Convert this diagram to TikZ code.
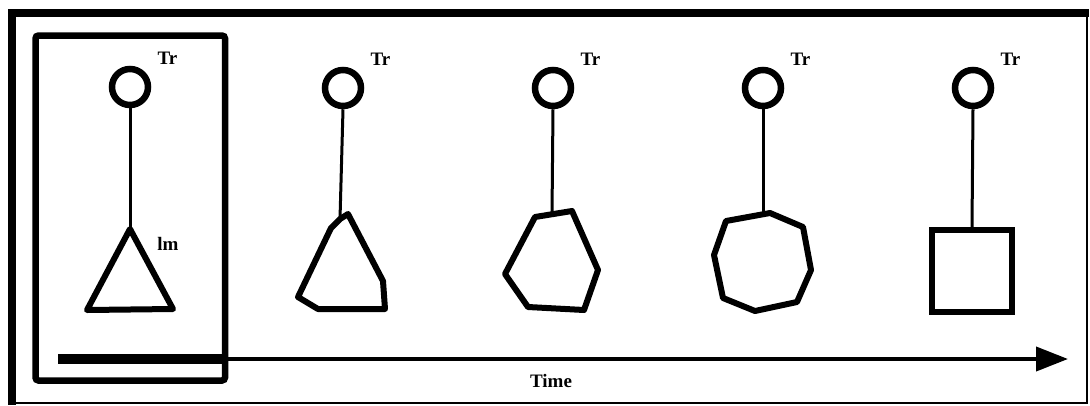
\documentclass[tikz,border=0pt]{standalone}
\usepackage{fontspec}
\setmainfont{Liberation Serif}
\usetikzlibrary{arrows.meta}
\begin{document}
\begin{tikzpicture}[x=1pt,y=-1pt,
  ring/.style={circle,draw,line width=6.5pt,minimum size=36pt,inner sep=0pt},
  lbl/.style={anchor=base,inner sep=0pt,font=\fontsize{19}{20}\selectfont\bfseries},
  stem/.style={line width=3pt},
  polyline/.style={line width=6pt,line join=round}]
\useasboundingbox (0,0) rectangle (1090,405);
% outer frame
\draw[line width=8pt] (8,13) -- (1089,13);
\draw[line width=8pt] (12,9) -- (12,405);
\draw[line width=2.5pt] (1087,9) -- (1087,403) -- (8,403);
% inner box
\draw[line width=6.5pt,rounded corners=3pt] (35.5,35.5) rectangle (225,380.5);
% time axis
\coordinate (barL) at (58,359);
\coordinate (barR) at (222,359);
\coordinate (tip) at (1068,359);
\draw[line width=10pt] (barL) -- (barR);
\draw[line width=4pt,-{Triangle[length=32pt,width=24pt]}] (barR) -- (tip);
\node[lbl] (time) at (551,387) {Time};
% stage 1
\node[ring] (c1) at (130,87) {};
\node[lbl] (tr1) at (167.5,64) {Tr};
\coordinate (t1) at (130,229);
\coordinate (t2) at (87,310);
\coordinate (t3) at (173,309);
\draw[polyline] (t1) -- (t2) -- (t3) -- cycle;
\draw[stem] (c1.south) -- (t1);
\node[lbl] (lm) at (168,250) {lm};
% stage 2
\node[ring] (c2) at (343,88) {};
\node[lbl] (tr2) at (380.5,65) {Tr};
\coordinate (a1) at (348,214);
\coordinate (a2) at (340,219);
\coordinate (a3) at (331,228);
\coordinate (a4) at (298,297);
\coordinate (a5) at (318,309);
\coordinate (a6) at (385,309);
\coordinate (a7) at (383,281);
\draw[polyline] (a1) -- (a2) -- (a3) -- (a4) -- (a5) -- (a6) -- (a7) -- cycle;
\draw[stem] (c2.south) -- (a2);
% stage 3
\node[ring] (c3) at (553,88) {};
\node[lbl] (tr3) at (590.5,65) {Tr};
\coordinate (b1) at (535,217);
\coordinate (b2) at (572,211);
\coordinate (b3) at (598,270);
\coordinate (b4) at (584,310);
\coordinate (b5) at (528,307);
\coordinate (b6) at (505,274);
\coordinate (bt) at (552,214.5);
\draw[polyline] (b1) -- (b2) -- (b3) -- (b4) -- (b5) -- (b6) -- cycle;
\draw[stem] (c3.south) -- (bt);
% stage 4
\node[ring] (c4) at (763,88) {};
\node[lbl] (tr4) at (800.5,65) {Tr};
\coordinate (d1) at (726,221);
\coordinate (d2) at (770,213);
\coordinate (d3) at (803,227);
\coordinate (d4) at (811,270);
\coordinate (d5) at (797,302);
\coordinate (d6) at (755,311);
\coordinate (d7) at (723,298);
\coordinate (d8) at (714,255);
\coordinate (dt) at (763,214.5);
\draw[polyline] (d1) -- (d2) -- (d3) -- (d4) -- (d5) -- (d6) -- (d7) -- (d8) -- cycle;
\draw[stem] (c4.south) -- (dt);
% stage 5
\node[ring] (c5) at (973,88) {};
\node[lbl] (tr5) at (1010.5,65) {Tr};
\node[draw,line width=6pt,minimum width=80pt,minimum height=82pt,inner sep=0pt] (sq) at (972,271) {};
\draw[stem] (c5.south) -- (sq.north);
\end{tikzpicture}
\end{document}
